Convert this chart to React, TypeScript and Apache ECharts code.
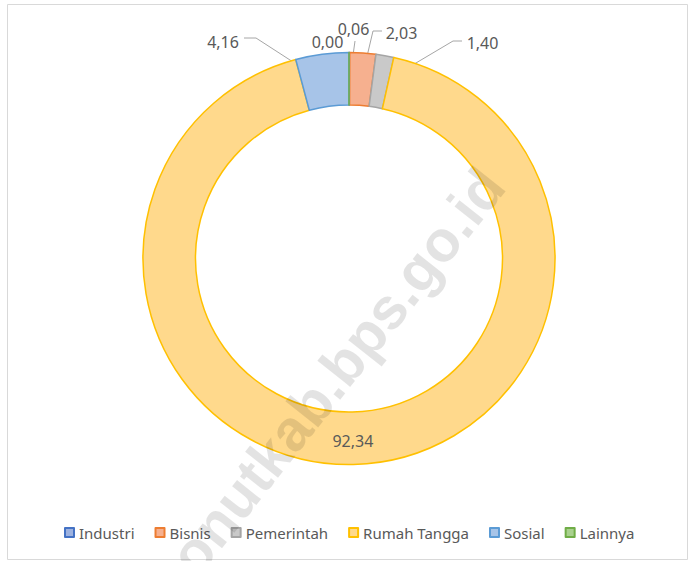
import React, { useEffect, useRef } from "react";
import * as echarts from "echarts";

const CATEGORIES = ["Industri", "Bisnis", "Pemerintah", "Rumah Tangga", "Sosial", "Lainnya"];
const VALUES = [0.06, 2.03, 1.4, 92.34, 4.16, 0.0];

const FILLS = ["#9DB2E0", "#F6B08F", "#C9C9C9", "#FFD98C", "#A7C4E8", "#A9D18E"];
const BORDERS = ["#4472C4", "#ED7D31", "#A5A5A5", "#FFC000", "#5B9BD5", "#70AD47"];

// label text anchors and leader line bends (styling)
const LABEL_LAYOUT: any[] = [
  { x: 353.5, y: 29, bend: [[355, 41]] },
  { x: 401.5, y: 33, bend: [[373, 31], [382, 31]] },
  { x: 482.5, y: 43, bend: [[453, 41], [462, 41]] },
  null,
  { x: 223, y: 42, bend: [[256, 38], [244, 38]] },
  { x: 327.5, y: 42, bend: [[328, 55]] },
];

const CX = 349;
const CY = 258.5;
const R_IN = 153.5;
const R_OUT = 206;
const FONT = '"Noto Sans", "Open Sans", sans-serif';

export default function App() {
  const ref = useRef<HTMLDivElement>(null);
  useEffect(() => {
    document.body.style.margin = "0";
    const chart = echarts.init(ref.current!, undefined, { renderer: "svg" });
    const total = VALUES.reduce((a, b) => a + b, 0);
    const midAngle = (i: number) => {
      let before = 0;
      for (let k = 0; k < i; k++) before += VALUES[k];
      return ((before + VALUES[i] / 2) / total) * Math.PI * 2;
    };
    const rMid = (R_IN + R_OUT) / 2 - 3;
    const data = CATEGORIES.map((name, i) => {
      const inside = LABEL_LAYOUT[i] === null;
      return {
        name,
        value: VALUES[i],
        itemStyle: { color: FILLS[i], borderColor: BORDERS[i], borderWidth: 1.5 },
        label: inside ? { position: "inside" } : { position: "outside" },
        labelLine: { show: !inside },
      };
    });
    chart.setOption({
      animation: false,
      backgroundColor: "#ffffff",
      legend: {
        data: CATEGORIES,
        left: 59,
        top: 520,
        icon: "rect",
        itemWidth: 9,
        itemHeight: 9,
        itemGap: 20,
        textStyle: { color: "#595959", fontSize: 15, fontFamily: FONT },
      },
      graphic: [
        {
          type: "rect",
          shape: { x: 7.5, y: 4.5, width: 680, height: 555 },
          style: { fill: "none", stroke: "#D9D9D9", lineWidth: 1 },
          silent: true,
          z: 0,
        },
        {
          type: "text",
          x: 327,
          y: 384,
          rotation: 0.9,
          silent: true,
          z: 100,
          style: {
            text: "konutkab.bps.go.id",
            fontSize: 58,
            fontWeight: "bold",
            fontFamily: '"Liberation Sans", Arial, sans-serif',
            fill: "rgba(0,0,0,0.11)",
            align: "center",
            verticalAlign: "middle",
          },
        },
      ],
      series: [
        {
          type: "pie",
          center: [CX, CY],
          radius: [R_IN, R_OUT],
          startAngle: 90,
          clockwise: true,
          avoidLabelOverlap: false,
          label: {
            show: true,
            color: "#595959",
            fontSize: 16,
            fontFamily: FONT,
            formatter: (p: any) => Number(p.value).toFixed(2).replace(".", ","),
          },
          labelLine: {
            show: true,
            length: 10,
            length2: 10,
            lineStyle: { color: "#A6A6A6", width: 1 },
          },
          labelLayout: (params: any) => {
            const cfg = LABEL_LAYOUT[params.dataIndex];
            if (!cfg) return {};
            const a = midAngle(params.dataIndex);
            const p0 = [CX + rMid * Math.sin(a), CY - rMid * Math.cos(a)];
            let pts: number[][];
            if (cfg.bend.length === 1) {
              const e = cfg.bend[0];
              pts = [p0, [(p0[0] + e[0]) / 2, (p0[1] + e[1]) / 2], e];
            } else {
              pts = [p0, cfg.bend[0], cfg.bend[1]];
            }
            return {
              x: cfg.x,
              y: cfg.y,
              align: "center",
              verticalAlign: "middle",
              labelLinePoints: pts,
            };
          },
          data,
        },
      ],
    });
    return () => chart.dispose();
  }, []);
  return <div ref={ref} style={{ width: 692, height: 561 }} />;
}
